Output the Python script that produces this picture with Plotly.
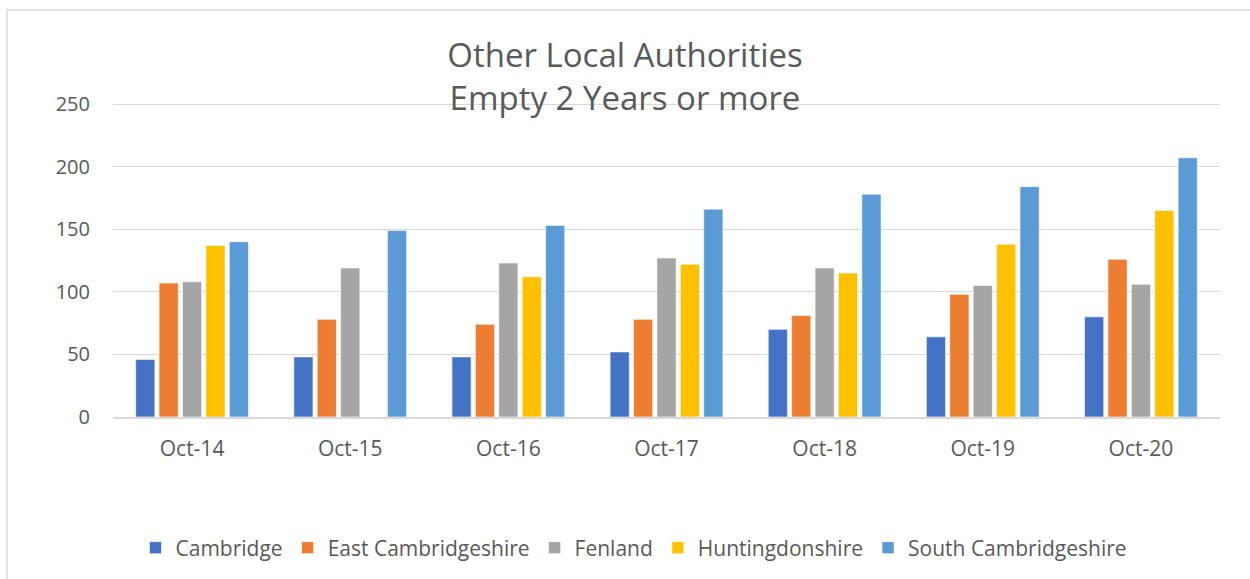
import plotly.graph_objects as go

categories = ["Oct-14", "Oct-15", "Oct-16", "Oct-17", "Oct-18", "Oct-19", "Oct-20"]
cambridge = [46, 48, 48, 52, 70, 64, 80]
east_cambs = [107, 78, 74, 78, 81, 98, 126]
fenland = [108, 119, 123, 127, 119, 105, 106]
huntingdonshire = [137, None, 112, 122, 115, 138, 165]
south_cambs = [140, 149, 153, 166, 178, 184, 207]
y_ticks = [0, 50, 100, 150, 200, 250]

series = [
    ("Cambridge", cambridge, "#4472C4"),
    ("East Cambridgeshire", east_cambs, "#ED7D31"),
    ("Fenland", fenland, "#A5A5A5"),
    ("Huntingdonshire", huntingdonshire, "#FFC000"),
    ("South Cambridgeshire", south_cambs, "#5B9BD5"),
]

FONT = "Open Sans"
GREY = "#595959"

fig = go.Figure()
for name, vals, col in series:
    fig.add_trace(go.Bar(
        name=name, x=categories, y=vals,
        marker=dict(color=col, line=dict(color="white", width=0.6)),
    ))

W, H = 1250, 579
L, R, T, B = 113, 30, 98, 162
pw = W - L - R
ph = H - T - B
PX_PER_UNIT = 313 / 250.0
y_top = ph / PX_PER_UNIT

def px_x(p):
    return (p - L) / pw

def px_y(p):
    return (H - B - p) / ph

fig.update_layout(
    width=W, height=H,
    margin=dict(l=L, r=R, t=T, b=B, autoexpand=False),
    paper_bgcolor="white", plot_bgcolor="white",
    barmode="group", bargap=0.26, bargroupgap=0.18,
    font=dict(family=FONT, color=GREY, size=19),
    title=dict(
        text="Other Local Authorities<br>Empty 2 Years or more",
        x=0.5, xanchor="center", xref="container",
        y=1 - 67 / H, yanchor="middle", yref="container",
        font=dict(family=FONT, size=33, color=GREY),
    ),
    xaxis=dict(
        showgrid=False, showline=True, linecolor="#D9D9D9", linewidth=1.5,
        ticks="", ticklabelstandoff=12, tickangle=0,
        tickfont=dict(size=21, color=GREY),
    ),
    yaxis=dict(
        range=[0, y_top], tickmode="array", tickvals=y_ticks,
        showgrid=True, gridcolor="#D9D9D9", gridwidth=1.3,
        zeroline=False, showline=False, ticks="", ticklabelstandoff=22,
        tickfont=dict(size=20, color=GREY),
    ),
    legend=dict(
        orientation="h", xref="paper", yref="paper",
        x=px_x(634), xanchor="center",
        y=px_y(548), yanchor="middle",
        font=dict(size=21, color=GREY),
        traceorder="normal",
    ),
    shapes=[dict(
        type="rect", xref="paper", yref="paper",
        x0=px_x(7), x1=px_x(1253), y0=px_y(583), y1=px_y(10),
        line=dict(color="#D9D9D9", width=1.5), fillcolor="rgba(0,0,0,0)", layer="below",
    )],
)

fig.write_html("out.html", config={"displayModeBar": False},
               post_script="document.body.style.margin='0';")
